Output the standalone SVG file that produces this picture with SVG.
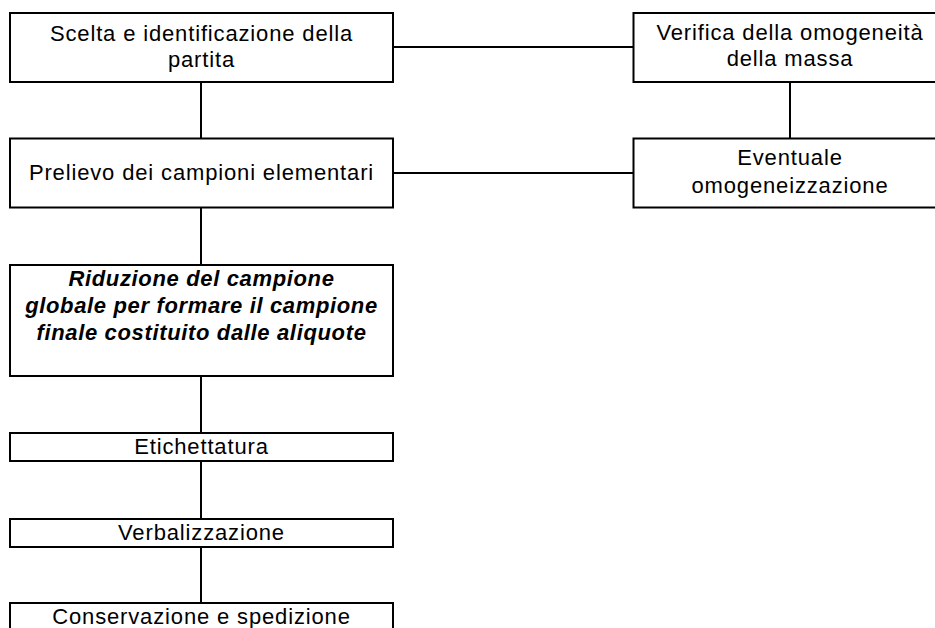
<svg xmlns="http://www.w3.org/2000/svg" width="935" height="628" viewBox="0 0 935 628">
<style>
.box{fill:#fff;stroke:#000;stroke-width:2}
.con line{stroke:#000;stroke-width:2}
text{font-family:"Liberation Sans",Arial,Helvetica,sans-serif;font-size:22px;letter-spacing:0.85px;text-anchor:middle;fill:#000}
.bi{font-weight:bold;font-style:italic;letter-spacing:0.65px}
</style>
<rect width="935" height="628" fill="#fff"/>
<g id="connectors" class="con">
<line x1="393" y1="47" x2="634" y2="47"/>
<line x1="393" y1="173" x2="634" y2="173"/>
<line x1="790" y1="82" x2="790" y2="138"/>
<line x1="201" y1="82" x2="201" y2="138"/>
<line x1="201" y1="208" x2="201" y2="265"/>
<line x1="201" y1="376" x2="201" y2="433"/>
<line x1="201" y1="461" x2="201" y2="519"/>
<line x1="201" y1="547" x2="201" y2="603"/>
</g>
<g id="n1">
<rect class="box" x="10" y="13" width="383" height="69"/>
<text x="201.5" y="40.5">Scelta e identificazione della</text>
<text x="201.5" y="66.5">partita</text>
</g>
<g id="n2">
<rect class="box" x="633.5" y="13" width="313" height="69"/>
<text x="790" y="39.5">Verifica della omogeneità</text>
<text x="790" y="65.5">della massa</text>
</g>
<g id="n3">
<rect class="box" x="10" y="138.5" width="383" height="69"/>
<text x="201.5" y="179.5">Prelievo dei campioni elementari</text>
</g>
<g id="n4">
<rect class="box" x="633.5" y="138.5" width="313" height="69"/>
<text x="790" y="165">Eventuale</text>
<text x="790" y="192.5">omogeneizzazione</text>
</g>
<g id="n5">
<rect class="box" x="10" y="265" width="383" height="111"/>
<text class="bi" x="201.5" y="285.5">Riduzione del campione</text>
<text class="bi" x="201.5" y="313">globale per formare il campione</text>
<text class="bi" x="201.5" y="340">finale costituito dalle aliquote</text>
</g>
<g id="n6">
<rect class="box" x="10" y="433" width="383" height="28"/>
<text x="201.5" y="454">Etichettatura</text>
</g>
<g id="n7">
<rect class="box" x="10" y="519" width="383" height="28"/>
<text x="201.5" y="540">Verbalizzazione</text>
</g>
<g id="n8">
<rect class="box" x="10" y="603" width="383" height="40"/>
<text x="201.5" y="624">Conservazione e spedizione</text>
</g>
</svg>
